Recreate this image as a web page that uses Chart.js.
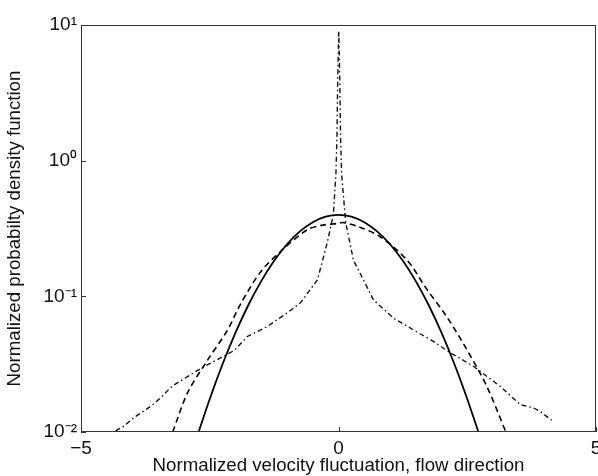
<!DOCTYPE html>
<html>
<head>
<meta charset="utf-8">
<script src="https://cdn.jsdelivr.net/npm/chart.js@4/dist/chart.umd.min.js"></script>
<style>
	body { margin: 0; background: #fff; overflow: hidden; }
</style>
</head>
<body>
<canvas id="chart" width="598" height="476"></canvas>
<script>
// solid line (gaussian reference)
var gaussX = [-2.72, -2.5, -2.25, -2, -1.75, -1.5, -1.25, -1, -0.75, -0.5, -0.25, 0, 0.25, 0.5, 0.75, 1, 1.25, 1.5, 1.75, 2, 2.25, 2.5, 2.72];
var gaussY = [0.0099, 0.0175, 0.0317, 0.054, 0.0863, 0.1295, 0.1826, 0.242, 0.301, 0.352, 0.387, 0.399, 0.387, 0.352, 0.301, 0.242, 0.1826, 0.1295, 0.0863, 0.054, 0.0317, 0.0175, 0.0099];

// dashed line
var dashX = [-3.22, -2.93, -2.54, -2.16, -1.9, -1.51, -1.12, -0.61, -0.3, 0, 0.08, 0.4, 0.81, 1.33, 1.72, 2.1, 2.49, 2.88, 3.25];
var dashY = [0.01, 0.0195, 0.034, 0.056, 0.088, 0.152, 0.215, 0.309, 0.335, 0.345, 0.35, 0.325, 0.275, 0.185, 0.112, 0.071, 0.0406, 0.0217, 0.01];

// dash-dot line
var dotX = [-4.33, -4.17, -3.97, -3.64, -3.45, -3.26, -3.13, -2.8, -2.6, -2.3, -2.02, -1.77, -1.38, -0.99, -0.74, -0.41, -0.22, -0.1, -0.05, -0.03, -0.015, 0.005, 0.025, 0.04, 0.06, 0.14, 0.29, 0.68, 1.07, 1.45, 1.84, 2.17, 2.62, 3.14, 3.53, 3.78, 3.91, 4.14];
var dotY = [0.0102, 0.011, 0.0128, 0.0155, 0.0179, 0.0213, 0.023, 0.0275, 0.0305, 0.035, 0.04, 0.0506, 0.06, 0.0758, 0.0895, 0.132, 0.247, 0.4, 0.8, 1.5, 4, 9, 4, 1.5, 0.8, 0.35, 0.185, 0.094, 0.069, 0.0567, 0.0466, 0.0384, 0.0305, 0.0217, 0.0159, 0.0151, 0.0142, 0.0122];

var xTicks = [-5, 0, 5];
var yTicks = [0.01, 0.1, 1, 10];
var yTickLabels = ['10\u207B\u00B2', '10\u207B\u00B9', '10\u2070', '10\u00B9'];

function toPoints(xs, ys) {
	var pts = [];
	for (var i = 0; i < xs.length; i++)
		pts.push({x: xs[i], y: ys[i]});
	return pts;
}

// box round the plot and short inward ticks
var boxPlugin = {
	id: 'box',
	afterDraw: function(chart) {
		var ctx = chart.ctx;
		var a = chart.chartArea;
		var xs = chart.scales.x, ys = chart.scales.y;
		ctx.save();
		ctx.strokeStyle = '#333';
		ctx.lineWidth = 1;
		ctx.strokeRect(a.left + 0.5, a.top + 0.5, a.right - a.left - 1, a.bottom - a.top - 1);
		ctx.beginPath();
		for (var i = 0; i < xTicks.length; i++) {
			var px = Math.round(xs.getPixelForValue(xTicks[i])) + 0.5;
			ctx.moveTo(px, a.bottom);
			ctx.lineTo(px, a.bottom - 5);
		}
		for (var j = 0; j < yTicks.length; j++) {
			var py = Math.round(ys.getPixelForValue(yTicks[j])) + 0.5;
			ctx.moveTo(a.left, py);
			ctx.lineTo(a.left + 5, py);
		}
		ctx.stroke();
		ctx.restore();
	}
};

var tickFont = {family: "'Liberation Sans', Arial, sans-serif", size: 19};
var titleFont = {family: "'Liberation Sans', Arial, sans-serif", size: 18.7};

new Chart(document.getElementById('chart'), {
	type: 'line',
	data: {
		datasets: [{
			data: toPoints(gaussX, gaussY),
			borderColor: '#000',
			borderWidth: 1.8,
			pointRadius: 0,
			tension: 0.3
		}, {
			data: toPoints(dashX, dashY),
			borderColor: '#000',
			borderWidth: 1.6,
			borderDash: [6, 4],
			pointRadius: 0,
			tension: 0.3
		}, {
			data: toPoints(dotX, dotY),
			borderColor: '#111',
			borderWidth: 1.4,
			borderDash: [5, 3, 1.5, 3],
			pointRadius: 0,
			tension: 0
		}]
	},
	options: {
		responsive: false,
		animation: false,
		devicePixelRatio: 1,
		layout: {padding: {top: 25, right: 2, left: 0, bottom: 0}},
		plugins: {legend: {display: false}, tooltip: {enabled: false}},
		scales: {
			x: {
				type: 'linear',
				min: -5,
				max: 5,
				grid: {display: false, drawTicks: false},
				border: {display: false},
				afterBuildTicks: function(s) {
					s.ticks = xTicks.map(function(v) { return {value: v}; });
				},
				afterFit: function(s) {
					s.height = 44;
					s.paddingLeft = 0;
					s.paddingRight = 0;
				},
				ticks: {
					color: '#111',
					font: tickFont,
					padding: 5,
					maxRotation: 0,
					autoSkip: false,
					callback: function(v) { return v < 0 ? '\u2212' + Math.abs(v) : '' + v; }
				},
				title: {
					display: true,
					text: 'Normalized velocity fluctuation, flow direction',
					color: '#111',
					font: titleFont,
					padding: {top: 0, bottom: -1}
				}
			},
			y: {
				type: 'logarithmic',
				min: 0.01,
				max: 10,
				grid: {display: false, drawTicks: false},
				border: {display: false},
				afterBuildTicks: function(s) {
					s.ticks = yTicks.map(function(v) { return {value: v}; });
				},
				afterFit: function(s) {
					s.width = 81;
					s.paddingTop = 0;
					s.paddingBottom = 0;
				},
				ticks: {
					color: '#111',
					font: tickFont,
					padding: 4,
					autoSkip: false,
					callback: function(v) {
						var k = yTicks.indexOf(v);
						return k >= 0 ? yTickLabels[k] : '';
					}
				},
				title: {
					display: true,
					text: 'Normalized probabilty density function',
					color: '#111',
					font: titleFont,
					padding: {top: 4, bottom: 0}
				}
			}
		}
	},
	plugins: [boxPlugin]
});
</script>
</body>
</html>
